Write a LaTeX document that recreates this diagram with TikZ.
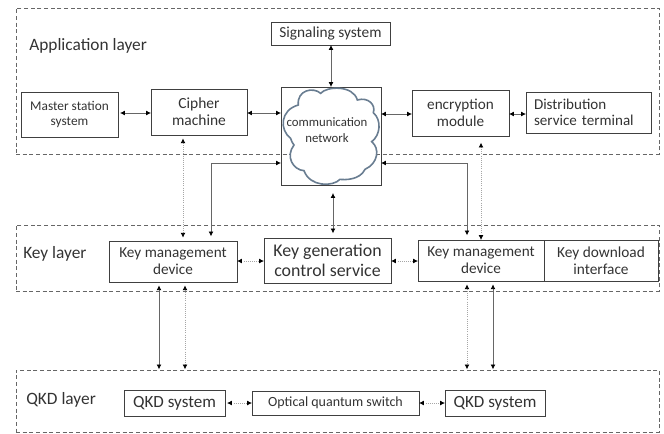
\documentclass[tikz,border=0pt]{standalone}
\usepackage{fontspec}
\setmainfont{Carlito}
\usetikzlibrary{arrows.meta}
\definecolor{txt}{gray}{0.2}
\definecolor{cloudc}{RGB}{105,125,145}
\tikzset{
  boxn/.style={draw=black!75,line width=0.7pt,fill=none,inner sep=0pt,outer sep=0pt,align=center,text=txt,font=\fontsize{#1}{#1}\selectfont\setlength\baselineskip{1.1\baselineskip}},
  boxn/.default=11,
  layern/.style={draw=black!60,dashed,dash pattern=on 3pt off 2pt,line width=0.6pt,inner sep=0pt,outer sep=0pt},
  lab/.style={text=txt,inner sep=0pt,anchor=west,font=\fontsize{#1}{#1}\selectfont},
  solidc/.style={draw=black!60,line width=0.6pt,{Latex[length=3.6pt,width=3.6pt,black]}-{Latex[length=3.6pt,width=3.6pt,black]}},
  dotc/.style={draw=black!35,line width=0.6pt,densely dotted,{Latex[length=3.6pt,width=3.6pt,black]}-{Latex[length=3.6pt,width=3.6pt,black]}},
}
\newcommand\pxbox[7]{%
  \pgfmathsetmacro\pxw{(#5-#3)*.75}%
  \pgfmathsetmacro\pxh{(#6-#4)*.75}%
  \pgfmathsetmacro\pxcx{(#5+#3)/2}%
  \pgfmathsetmacro\pxcy{(#6+#4)/2}%
  \node[#1,minimum width=\pxw pt,minimum height=\pxh pt] (#2) at (\pxcx,\pxcy) {#7};}
\begin{document}
\begin{tikzpicture}[x=.75pt,y=-.75pt]
\useasboundingbox (0,0) rectangle (664,433);
% layers
\pxbox{layern}{applayer}{16}{8}{659}{154}{}
\pxbox{layern}{keylayer}{16}{225}{659}{291}{}
\pxbox{layern}{qkdlayer}{16}{370}{659}{432}{}
\node[lab=13] (tapp) at (29,46) {Application layer};
\node[lab=13] (tkey) at (23,254) {Key layer};
\node[lab=13] (tqkd) at (26,400) {QKD layer};
% application boxes
\pxbox{boxn=10}{master}{21}{92}{118}{137}{Master station\\system}
\pxbox{boxn=11.6}{cipher}{151}{89}{247}{135}{Cipher\\machine}
\pxbox{boxn=11.5}{signal}{271}{22}{390}{45}{Signaling system}
\pxbox{boxn}{net}{281}{87}{381}{185}{}
\pxbox{boxn=11.4}{enc}{412}{90}{509}{136}{encryption\\module}
\node[boxn=11.3,minimum width=93.75pt,minimum height=30.75pt,text width=81.75pt,align=left] (dist) at (588.5,112.5) {Distribution\\service terminal};
% cloud
\begin{scope}[shift={(270,80)},x=.25pt,y=-.25pt]
\draw[draw=cloudc,line width=1.2pt,fill=white]
 (62,175) .. controls (28,150) and (30,90) .. (85,75)
 .. controls (80,30) and (130,20) .. (152,40)
 .. controls (170,18) and (250,15) .. (262,60)
 .. controls (295,50) and (318,75) .. (310,98)
 .. controls (335,120) and (332,165) .. (305,185)
 .. controls (330,205) and (325,250) .. (285,268)
 .. controls (270,300) and (225,300) .. (210,298)
 .. controls (190,320) and (120,322) .. (102,272)
 .. controls (70,270) and (45,230) .. (72,195)
 .. controls (65,190) and (65,180) .. (62,175) -- cycle;
\end{scope}
\node[text=txt,align=center,inner sep=0pt,font=\fontsize{9.6}{11.5}\selectfont] (nettext) at (327,130) {communication\\network};
% key layer boxes
\pxbox{boxn=11.4}{kmdl}{109}{241}{237}{282}{Key management\\device}
\pxbox{boxn=13.4}{keygen}{264}{238}{391}{283}{Key generation\\control service}
\pxbox{boxn=11.4}{kmdr}{418}{240}{544}{281}{Key management\\device}
\pxbox{boxn=11.5}{kdi}{544}{240}{658}{281}{Key download\\interface}
% qkd boxes
\pxbox{boxn=12.8}{qkdl}{124}{390}{225}{416}{QKD system}
\pxbox{boxn=10.5}{opt}{252}{391}{419}{415}{Optical quantum switch}
\pxbox{boxn=12.8}{qkdr}{445}{390}{545}{416}{QKD system}
% guide coordinates
\coordinate (ya) at (0,113);
\coordinate (yb) at (0,114);
\coordinate (yk) at (0,261);
\coordinate (yq) at (0,403);
\coordinate (ye) at (0,163);
\coordinate (xs) at (331,0);
\coordinate (xk) at (333,0);
\coordinate (xd) at (183,0);
\coordinate (xl) at (211,0);
\coordinate (xr) at (467,0);
\coordinate (xe) at (481,0);
\coordinate (xa) at (159,0);
\coordinate (xb) at (185,0);
\coordinate (xc) at (467,0);
\coordinate (xf) at (493,0);
% connectors
\draw[solidc,shorten <=1.5pt] (master.east |- ya) -- (cipher.west |- ya);
\draw[solidc] (cipher.east |- ya) -- (net.west |- ya);
\draw[solidc] (net.east |- yb) -- (enc.west |- yb);
\draw[solidc] (enc.east |- yb) -- (dist.west |- yb);
\draw[solidc] (signal.south -| xs) -- (net.north -| xs);
\draw[solidc,shorten <=6pt,shorten >=3.5pt] (net.south -| xk) -- (keygen.north -| xk);
\draw[dotc,shorten <=2.5pt,shorten >=2.5pt] (cipher.south -| xd) -- (kmdl.north -| xd);
\draw[solidc,shorten >=3.5pt] (net.west |- ye) -| (kmdl.north -| xl);
\draw[solidc,shorten >=3.5pt] (net.east |- ye) -| (kmdr.north -| xr);
\draw[dotc,shorten <=5pt,shorten >=0pt] (enc.south -| xe) -- (kmdr.north -| xe);
\draw[solidc,shorten <=2.5pt,shorten >=0.5pt] (kmdl.south -| xa) -- (qkdlayer.north -| xa);
\draw[dotc,shorten <=2.5pt,shorten >=0.5pt] (kmdl.south -| xb) -- (qkdlayer.north -| xb);
\draw[dotc,shorten <=2.5pt,shorten >=0.5pt] (kmdr.south -| xc) -- (qkdlayer.north -| xc);
\draw[solidc,shorten <=2.5pt,shorten >=0.5pt] (kmdr.south -| xf) -- (qkdlayer.north -| xf);
\draw[dotc] (kmdl.east |- yk) -- (keygen.west |- yk);
\draw[dotc] (keygen.east |- yk) -- (kmdr.west |- yk);
\draw[dotc,shorten <=1.5pt] (qkdl.east |- yq) -- (opt.west |- yq);
\draw[dotc] (opt.east |- yq) -- (qkdr.west |- yq);
\end{tikzpicture}
\end{document}
